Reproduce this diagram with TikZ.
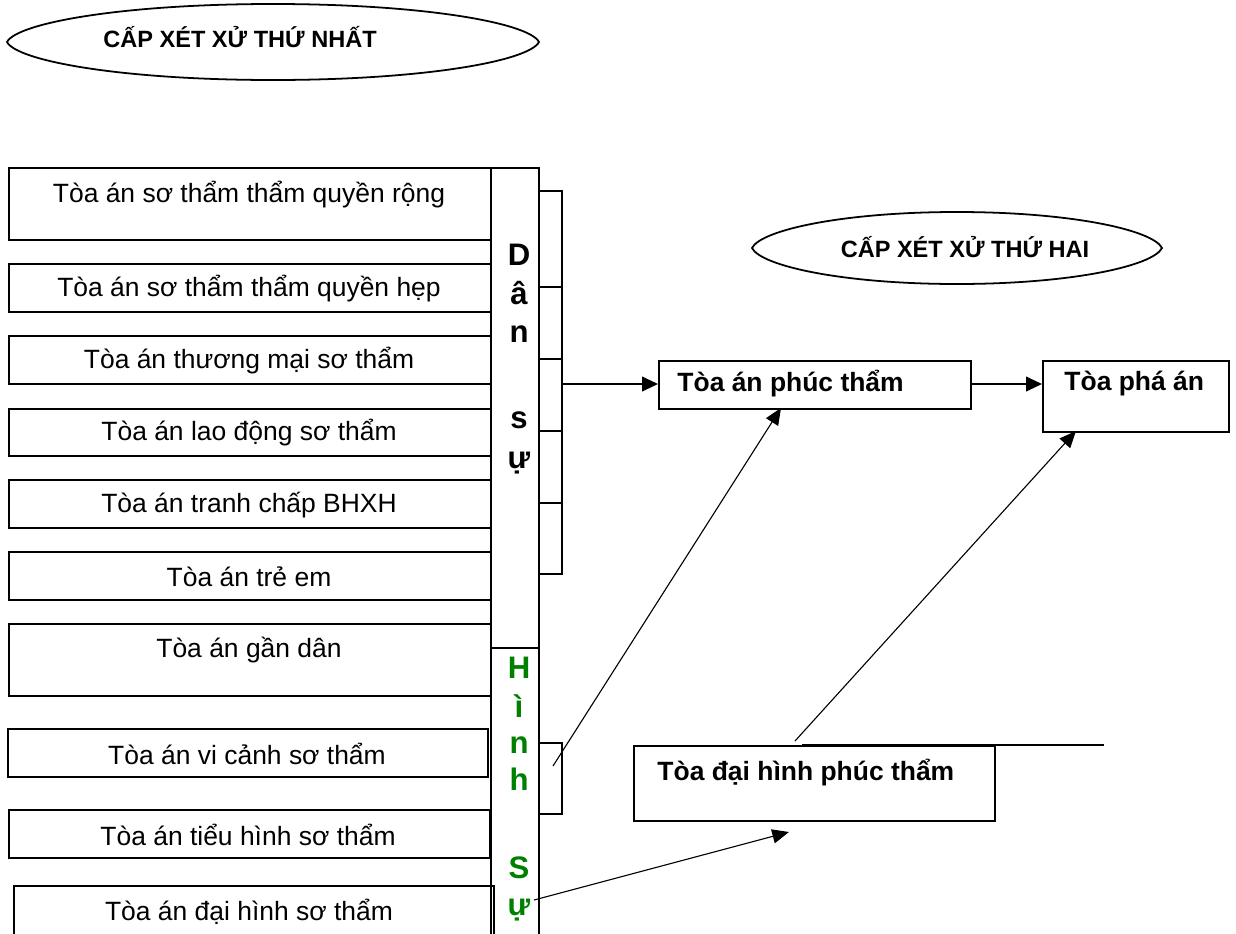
\documentclass[tikz,border=0pt]{standalone}
\usepackage{fontspec}
\setmainfont{Liberation Sans}
\usetikzlibrary{arrows.meta,shapes.geometric}
\definecolor{hsgreen}{RGB}{0,128,0}
\tikzset{
  frame/.style={draw=black, line width=0.9pt, anchor=north west, inner sep=0pt},
  txt/.style={inner sep=0pt, font=\fontsize{11.9}{14}\selectfont},
  btxt/.style={inner sep=0pt, font=\fontsize{11.9}{14}\selectfont\bfseries},
  htxt/.style={inner sep=0pt, font=\fontsize{10.6}{13}\selectfont\bfseries},
  colletter/.style={inner sep=0pt, anchor=base, font=\fontsize{14}{16}\selectfont\bfseries},
  ovalline/.style={draw=black, line width=0.8pt},
  bline/.style={line width=0.9pt},
  bigarrow/.style={line width=0.9pt, -{Triangle[length=7.2pt,width=6.6pt]}},
  diagarrow/.style={line width=0.5pt, -{Triangle[length=7.5pt,width=6.4pt]}}
}
\begin{document}
\begin{tikzpicture}[x=0.45pt,y=-0.45pt]
\useasboundingbox (0,0) rectangle (1236,933);
\clip (0,0) rectangle (1236,933);

% ellipses (slightly pointed ends)
\draw[ovalline] (7,42) .. controls (17,23) and (122,4) .. (273,4)
  .. controls (424,4) and (529,23) .. (539,42)
  .. controls (529,61) and (424,80) .. (273,80)
  .. controls (122,80) and (17,61) .. (7,42) -- cycle;
\node[htxt] (e1t) at (240,37) {CẤP XÉT XỬ THỨ NHẤT};
\draw[ovalline] (752,248) .. controls (761,230) and (843,212) .. (957,212)
  .. controls (1071,212) and (1153,230) .. (1162,248)
  .. controls (1153,266) and (1071,284) .. (957,284)
  .. controls (843,284) and (761,266) .. (752,248) -- cycle;
\node[htxt] (e2t) at (965,247) {CẤP XÉT XỬ THỨ HAI};

% left boxes
\node[frame, minimum width=482*0.45pt, minimum height=72*0.45pt] (b1) at (8,167) {};
\node[txt] (b1t) at (249,195) {Tòa án sơ thẩm thẩm quyền rộng};
\node[frame, minimum width=482*0.45pt, minimum height=48*0.45pt] (b2) at (8,263) {};
\node[txt] (b2t) at (249,289) {Tòa án sơ thẩm thẩm quyền hẹp};
\node[frame, minimum width=482*0.45pt, minimum height=48*0.45pt] (b3) at (8,335) {};
\node[txt] (b3t) at (249,361) {Tòa án thương mại sơ thẩm};
\node[frame, minimum width=482*0.45pt, minimum height=47*0.45pt] (b4) at (8,408) {};
\node[txt] (b4t) at (249,433) {Tòa án lao động sơ thẩm};
\node[frame, minimum width=482*0.45pt, minimum height=48*0.45pt] (b5) at (8,479) {};
\node[txt] (b5t) at (249,505) {Tòa án tranh chấp BHXH};
\node[frame, minimum width=482*0.45pt, minimum height=48*0.45pt] (b6) at (8,551) {};
\node[txt] (b6t) at (249,577) {Tòa án trẻ em};
\node[frame, minimum width=482*0.45pt, minimum height=72*0.45pt] (b7) at (8,623) {};
\node[txt] (b7t) at (249,650) {Tòa án gần dân};
\node[frame, minimum width=480*0.45pt, minimum height=48*0.45pt] (b8) at (7,728) {};
\node[txt] (b8t) at (247,754) {Tòa án vi cảnh sơ thẩm};
\node[frame, minimum width=481*0.45pt, minimum height=48*0.45pt] (b9) at (8,809) {};
\node[txt] (b9t) at (248,835) {Tòa án tiểu hình sơ thẩm};
\node[frame, minimum width=480*0.45pt, minimum height=70*0.45pt] (b10) at (13,885) {};
\node[txt] (b10t) at (249,912) {Tòa án đại hình sơ thẩm};

% columns
\node[frame, minimum width=48*0.45pt, minimum height=480*0.45pt] (cds) at (490,167) {};
\node[frame, minimum width=48*0.45pt, minimum height=300*0.45pt] (chs) at (490,647) {};
\node[colletter] (d1) at (519,265) {D};
\node[colletter] (d2) at (519,304) {â};
\node[colletter] (d3) at (519,342) {n};
\node[colletter] (d4) at (519,428) {s};
\node[colletter] (d5) at (519,468) {ự};
\node[colletter, text=hsgreen] (h1) at (519,678) {H};
\node[colletter, text=hsgreen] (h2) at (519,717) {ì};
\node[colletter, text=hsgreen] (h3) at (519,753) {n};
\node[colletter, text=hsgreen] (h4) at (519,790) {h};
\node[colletter, text=hsgreen] (h5) at (519,878) {S};
\node[colletter, text=hsgreen] (h6) at (519,915) {ự};

% bracket for Dan su
\draw[bline] (538,191) -- (562,191) -- (562,574) -- (538,574);
\foreach \yy in {287,359,431,503} \draw[bline] (538,\yy) -- (562,\yy);
\coordinate (dsout) at (562,384);

% bracket for Hinh su
\draw[bline] (538,743) -- (562,743) -- (562,814) -- (538,814);

% right boxes
\node[frame, minimum width=312*0.45pt, minimum height=48*0.45pt] (pt) at (658,360) {};
\node[btxt, anchor=west] (ptt) at (677,384) {Tòa án phúc thẩm};
\node[frame, minimum width=186*0.45pt, minimum height=71*0.45pt] (pa) at (1042,360) {};
\node[btxt, anchor=west] (pat) at (1064,384) {Tòa phá án};
\node[frame, minimum width=361*0.45pt, minimum height=75*0.45pt] (dh) at (633,745) {};
\node[btxt, anchor=west] (dht) at (657,773) {Tòa đại hình phúc thẩm};
\draw[bline] (802,745) -- (1104,745);

% arrows
\draw[bigarrow] (dsout) -- (dsout -| pt.west);
\draw[bigarrow] (pt.east |- dsout) -- (pa.west |- dsout);

\coordinate (hsout) at (553,766);
\coordinate (ptin) at (781,408);
\draw[diagarrow] (hsout) -- (ptin);

\coordinate (dhout) at (795,741);
\coordinate (pain) at (1076,431);
\draw[diagarrow] (dhout) -- (pain);

\coordinate (hsout2) at (534,900);
\coordinate (dhin) at (789,832);
\draw[diagarrow] (hsout2) -- (dhin);
\end{tikzpicture}
\end{document}
